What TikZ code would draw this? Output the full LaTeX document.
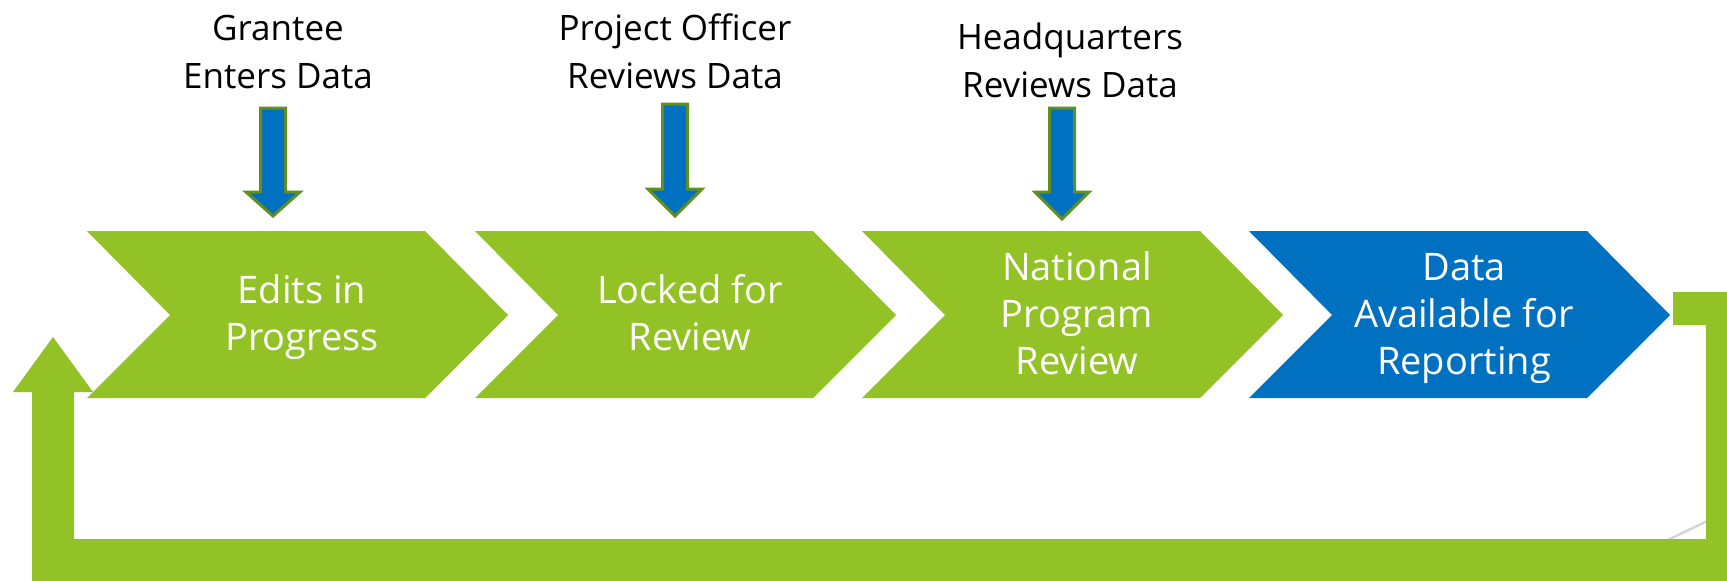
\documentclass[tikz,border=0pt]{standalone}
\usepackage{fontspec}
\setmainfont{Open Sans}
\definecolor{lgreen}{HTML}{92C225}
\definecolor{dblue}{HTML}{0070C0}
\definecolor{olive}{HTML}{5F8E22}
\definecolor{faint}{HTML}{D4D4D4}
\tikzset{
  chev/.style={fill=#1, draw=none},
  chevtext/.style={text=white, align=center, anchor=base, inner sep=0pt,
    font=\fontsize{19}{23.5}\selectfont},
  toplabel/.style={text=black, align=center, anchor=base, inner sep=0pt,
    font=\fontsize{17.5}{24}\selectfont},
  downarrow/.style={fill=dblue, draw=olive, line width=1.5pt, line join=miter},
  loopshape/.style={fill=lgreen, draw=none}
}
\begin{document}
\begin{tikzpicture}[x=0.5pt, y=-0.5pt]
\clip (0,0) rectangle (1727,580);
\fill[white] (0,0) rectangle (1727,580);

% chevron anchors
\foreach \i/\xo/\col in {1/87/lgreen, 2/475/lgreen, 3/862/lgreen, 4/1249/dblue}{
  \coordinate (c\i) at (\xo,231);
  \fill[chev=\col] (c\i) -- ++(338,0) -- ++(83,84) -- ++(-83,83) -- ++(-338,0) -- ++(83,-83) -- cycle;
}

% chevron texts (anchor = baseline of last line)
\node[chevtext] (t1) at (302,350) {Edits in\\Progress};
\node[chevtext] (t2) at (690,350) {Locked for\\Review};
\node[chevtext] (t3) at (1077,374) {National\\Program\\Review};
\node[chevtext] (t4) at (1464,374) {Data\\Available for\\Reporting};

% top labels
\node[toplabel] (l1) at (278,88) {Grantee\\Enters Data};
\node[toplabel] (l2) at (675,88) {Project Officer\\Reviews Data};
\node[toplabel] (l3) at (1070,97) {Headquarters\\Reviews Data};

% down arrows
\foreach \cx/\top/\base/\tip in {273/108/192/216, 675/104/189/216, 1062/108/192/219}{
  \draw[downarrow] (\cx-12.5,\top) -- (\cx+12.5,\top) -- (\cx+12.5,\base) -- (\cx+27,\base)
    -- (\cx,\tip) -- (\cx-27,\base) -- (\cx-12.5,\base) -- cycle;
}

% faint line
\draw[faint, line width=1.2pt] (1655,546) -- (1720,515);

% return loop arrow
\coordinate (ls) at (1673,292);
\fill[loopshape] (ls) -- (1760,292) -- (1760,620) -- (32,620) -- (32,392) -- (13,392)
  -- (53,337) -- (93,392) -- (74,392) -- (74,539) -- (1706,539) -- (1706,325) -- (1673,325) -- cycle;
\end{tikzpicture}
\end{document}
